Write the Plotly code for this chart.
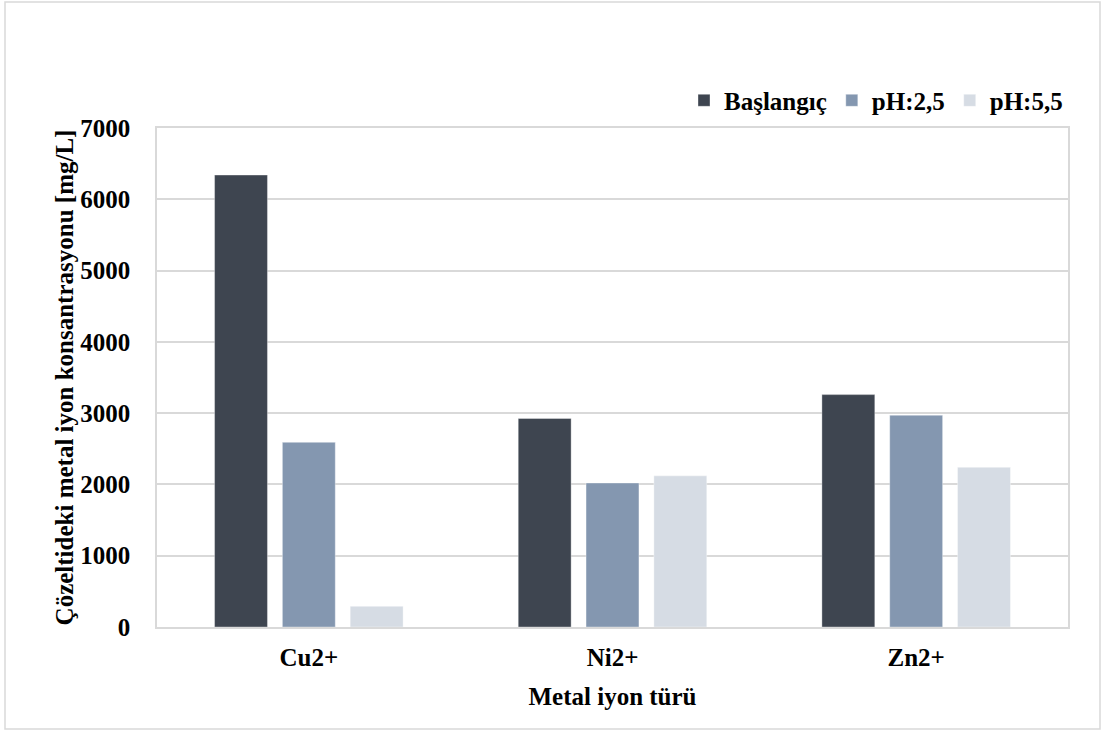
import plotly.graph_objects as go

# Metal ion concentrations in solution (mg/L)
ions = ["Cu2+", "Ni2+", "Zn2+"]
baslangic = [6340, 2925, 3260]
ph_2_5 = [2590, 2020, 2970]
ph_5_5 = [290, 2120, 2240]
y_ticks = [0, 1000, 2000, 3000, 4000, 5000, 6000, 7000]

series = [
    ("Başlangıç", baslangic, "#3e4550"),
    ("pH:2,5", ph_2_5, "#8497b0"),
    ("pH:5,5", ph_5_5, "#d6dce4"),
]

FONT = "Times New Roman, Liberation Serif, serif"
FS = 25

fig = go.Figure()
for name, vals, color in series:
    fig.add_trace(go.Bar(
        x=ions, y=vals, name=f"<b>{name}</b>",
        marker=dict(color=color, line=dict(color="rgba(255,255,255,0.35)", width=1)),
    ))

W, H = 1105, 731
ml, mr, mt, mb = 157, 37, 128, 104

fig.update_layout(
    width=W, height=H,
    margin=dict(l=ml, r=mr, t=mt, b=mb),
    paper_bgcolor="white", plot_bgcolor="white",
    barmode="group", bargap=0.33, bargroupgap=0.22,
    font=dict(family=FONT, size=FS, color="black"),
    legend=dict(
        orientation="h", x=1.0, xanchor="right", y=1.055, yanchor="middle",
        font=dict(family=FONT, size=FS, color="black"),
        itemwidth=30, traceorder="normal",
    ),
    xaxis=dict(
        showline=True, linecolor="#d9d9d9", linewidth=1.5, mirror=True,
        showgrid=False, ticks="",
        tickvals=ions, ticktext=[f"<b>{c}</b>" for c in ions],
        tickfont=dict(family=FONT, size=FS, color="black"),
        ticklabelstandoff=7,
        title=dict(text="<b>Metal iyon türü</b>", standoff=18,
                   font=dict(family=FONT, size=FS, color="black")),
    ),
    yaxis=dict(
        range=[0, 7000], tickvals=y_ticks,
        ticktext=[f"<b>{v}</b>" for v in y_ticks],
        showline=True, linecolor="#d9d9d9", linewidth=1.5, mirror=True,
        showgrid=True, gridcolor="#d9d9d9", gridwidth=1.5,
        zeroline=False, ticks="",
        tickfont=dict(family=FONT, size=FS, color="black"),
        ticklabelstandoff=20,
        title=dict(text="<b>Çözeltideki metal iyon konsantrasyonu [mg/L]</b>", standoff=0,
                   font=dict(family=FONT, size=FS, color="black")),
    ),
)

# outer chart frame
pw, ph = W - ml - mr, H - mt - mb
fig.add_shape(
    type="rect", xref="paper", yref="paper",
    x0=(5 - ml) / pw, x1=(1100 - ml) / pw,
    y0=-(729 - mt - ph) / ph, y1=1 + (mt - 2) / ph,
    line=dict(color="#d9d9d9", width=1.5), fillcolor="rgba(0,0,0,0)", layer="below",
)

fig.write_html("out.html")
